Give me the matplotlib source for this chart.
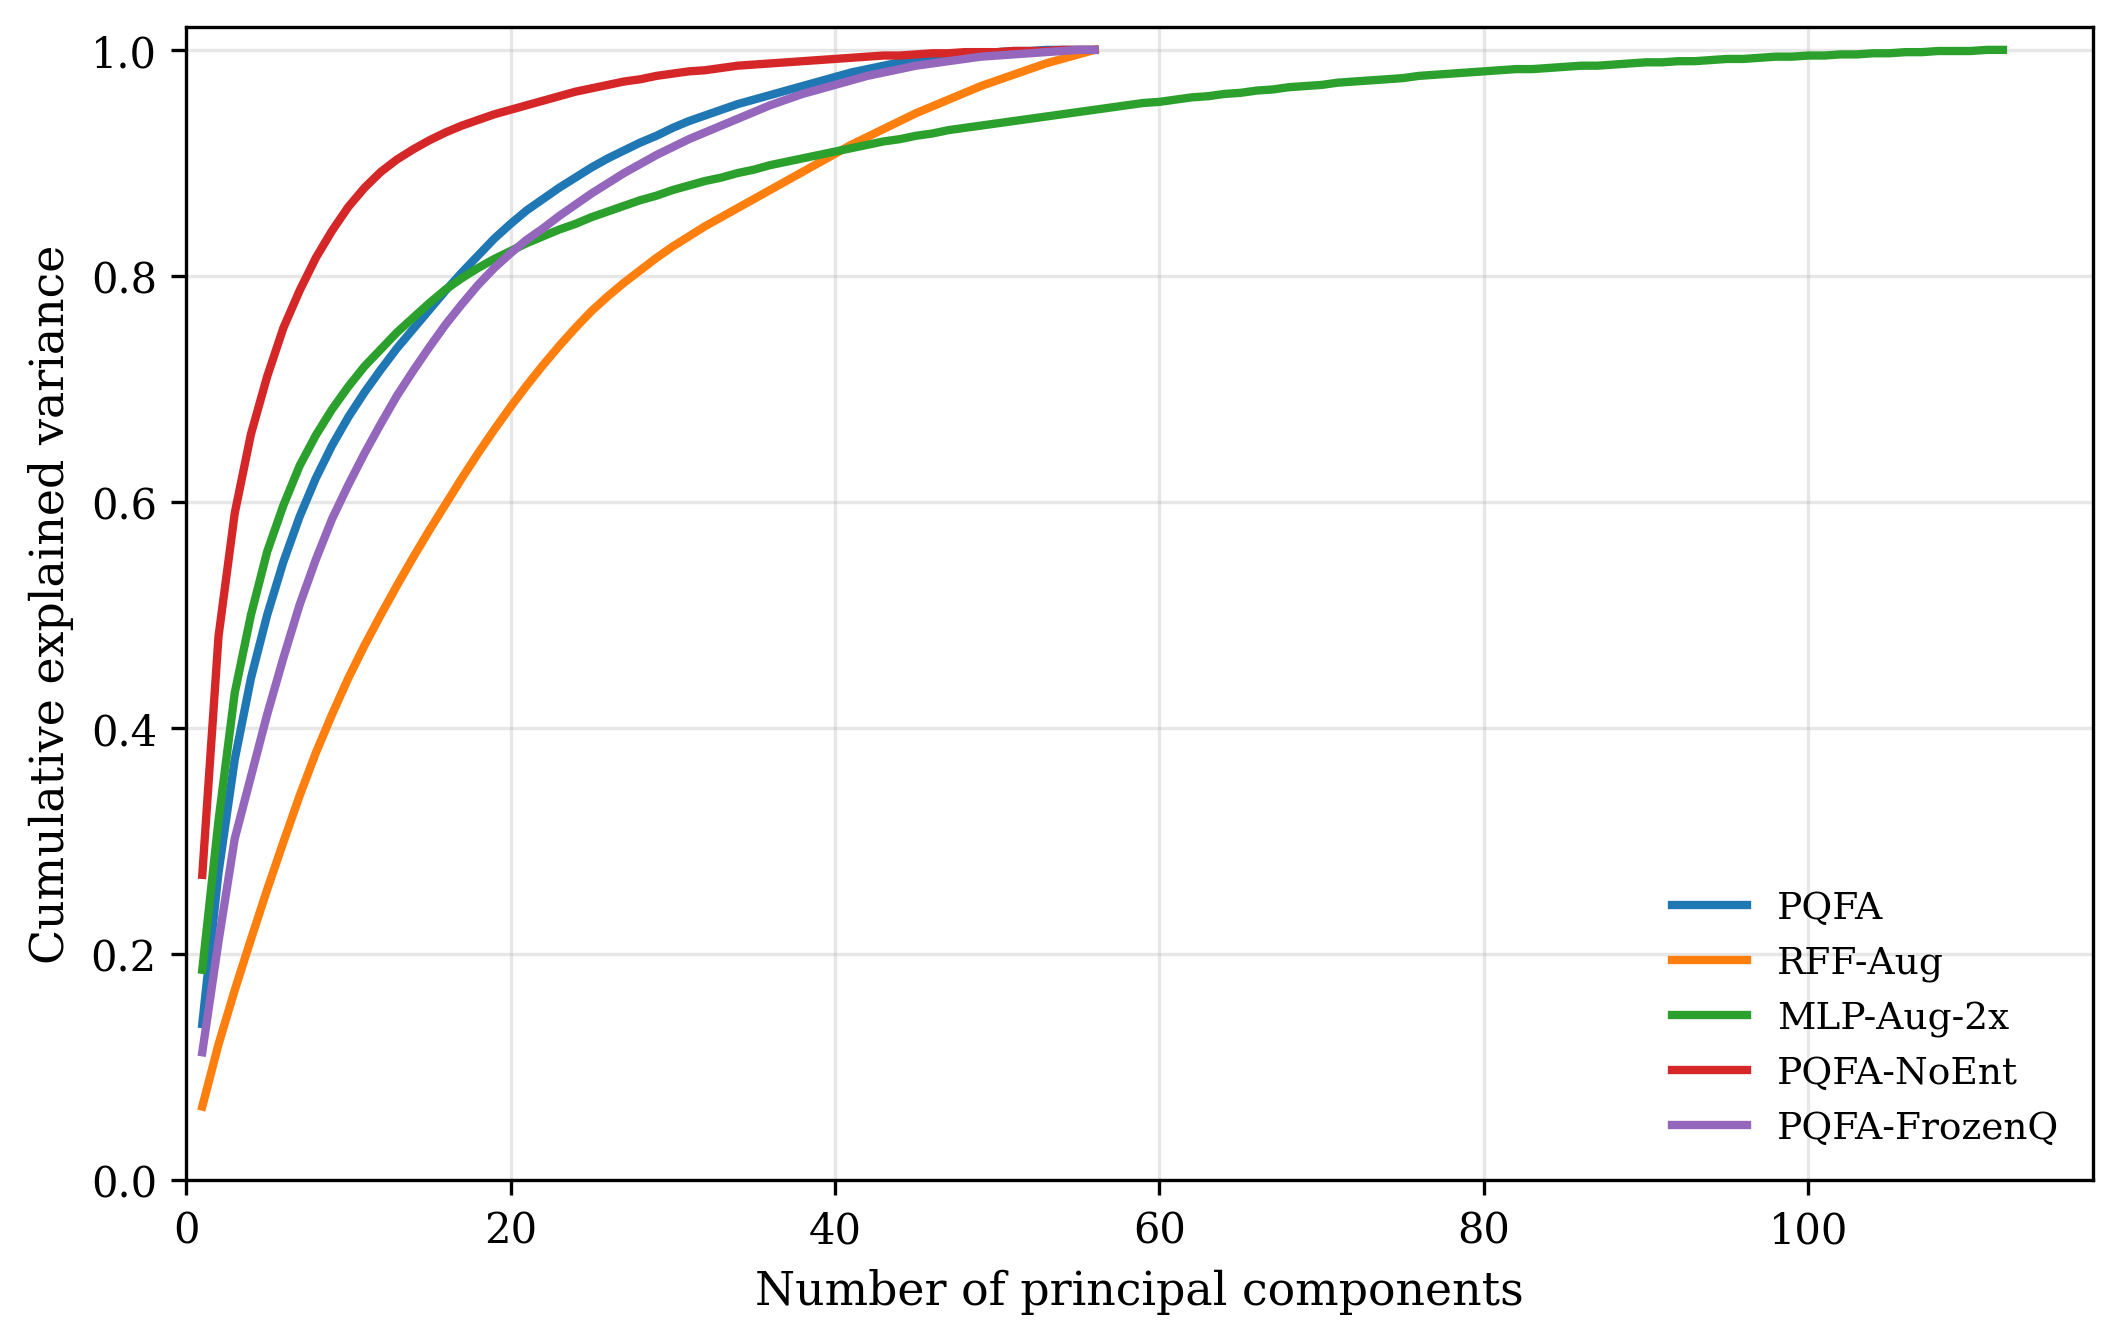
import numpy as np
import matplotlib
matplotlib.use("Agg")
import matplotlib.pyplot as plt

# ==============================
# Cumulative explained variance
# ==============================
pqfa = [0.138, 0.272, 0.372, 0.444, 0.500, 0.547, 0.587, 0.621, 0.650, 0.675,
        0.697, 0.717, 0.736, 0.753, 0.770, 0.787, 0.803, 0.818, 0.833, 0.846,
        0.858, 0.868, 0.878, 0.887, 0.896, 0.904, 0.911, 0.918, 0.924, 0.931,
        0.937, 0.942, 0.947, 0.952, 0.956, 0.960, 0.964, 0.968, 0.972, 0.976,
        0.980, 0.983, 0.986, 0.989, 0.991, 0.993, 0.995, 0.996, 0.997, 0.998,
        0.999, 0.999, 1.000, 1.000, 1.000, 1.000]

rff_aug = [0.065, 0.120, 0.168, 0.213, 0.257, 0.299, 0.340, 0.378, 0.412, 0.444,
           0.473, 0.500, 0.526, 0.551, 0.575, 0.598, 0.621, 0.643, 0.664, 0.684,
           0.703, 0.721, 0.738, 0.754, 0.769, 0.782, 0.794, 0.805, 0.816, 0.826,
           0.835, 0.844, 0.852, 0.860, 0.868, 0.876, 0.884, 0.892, 0.900, 0.908,
           0.916, 0.923, 0.930, 0.937, 0.944, 0.950, 0.956, 0.962, 0.968, 0.973,
           0.978, 0.983, 0.988, 0.992, 0.996, 1.000]

mlp_aug_2x = [0.186, 0.318, 0.431, 0.500, 0.556, 0.597, 0.632, 0.659, 0.682, 0.702,
              0.720, 0.735, 0.750, 0.763, 0.776, 0.788, 0.798, 0.807, 0.815, 0.822,
              0.829, 0.835, 0.841, 0.846, 0.852, 0.857, 0.862, 0.867, 0.871, 0.876,
              0.880, 0.884, 0.887, 0.891, 0.894, 0.898, 0.901, 0.904, 0.907, 0.910,
              0.913, 0.916, 0.919, 0.921, 0.924, 0.926, 0.929, 0.931, 0.933, 0.935,
              0.937, 0.939, 0.941, 0.943, 0.945, 0.947, 0.949, 0.951, 0.953, 0.954,
              0.956, 0.958, 0.959, 0.961, 0.962, 0.964, 0.965, 0.967, 0.968, 0.969,
              0.971, 0.972, 0.973, 0.974, 0.975, 0.977, 0.978, 0.979, 0.980, 0.981,
              0.982, 0.983, 0.983, 0.984, 0.985, 0.986, 0.986, 0.987, 0.988, 0.989,
              0.989, 0.990, 0.990, 0.991, 0.992, 0.992, 0.993, 0.994, 0.994, 0.995,
              0.995, 0.996, 0.996, 0.997, 0.997, 0.998, 0.998, 0.999, 0.999, 0.999,
              1.000, 1.000]

pqfa_noent = [0.270, 0.481, 0.590, 0.660, 0.711, 0.754, 0.787, 0.816, 0.840, 0.861,
              0.878, 0.892, 0.903, 0.912, 0.920, 0.927, 0.933, 0.938, 0.943, 0.947,
              0.951, 0.955, 0.959, 0.963, 0.966, 0.969, 0.972, 0.974, 0.977, 0.979,
              0.981, 0.982, 0.984, 0.986, 0.987, 0.988, 0.989, 0.990, 0.991, 0.992,
              0.993, 0.994, 0.995, 0.995, 0.996, 0.997, 0.997, 0.998, 0.998, 0.998,
              0.999, 0.999, 0.999, 1.000, 1.000, 1.000]

pqfa_frozenq = [0.113, 0.211, 0.302, 0.357, 0.412, 0.462, 0.509, 0.549, 0.585, 0.615,
                0.643, 0.669, 0.694, 0.716, 0.737, 0.757, 0.775, 0.792, 0.807, 0.820,
                0.832, 0.842, 0.853, 0.863, 0.873, 0.882, 0.891, 0.899, 0.907, 0.914,
                0.921, 0.927, 0.933, 0.939, 0.945, 0.951, 0.956, 0.961, 0.965, 0.969,
                0.973, 0.977, 0.980, 0.983, 0.986, 0.988, 0.990, 0.992, 0.994, 0.995,
                0.996, 0.997, 0.998, 0.999, 1.000, 1.000]

series = [
    ("PQFA", pqfa, "#1f77b4"),
    ("RFF-Aug", rff_aug, "#ff7f0e"),
    ("MLP-Aug-2x", mlp_aug_2x, "#2ca02c"),
    ("PQFA-NoEnt", pqfa_noent, "#d62728"),
    ("PQFA-FrozenQ", pqfa_frozenq, "#9467bd"),
]

plt.rcParams["font.family"] = ["DejaVu Serif"]

fig, ax = plt.subplots(figsize=(7.08, 4.473), dpi=300)
fig.subplots_adjust(left=0.0876, right=0.9854, top=0.979, bottom=0.12)

for label, vals, color in series:
    comps = np.arange(1, len(vals) + 1)
    ax.plot(comps, vals, label=label, color=color, linewidth=2.0)

ax.set_xlim(left=0)
ax.set_ylim(0, 1.02)
ax.set_xlabel("Number of principal components", fontsize=11)
ax.set_ylabel("Cumulative explained variance", fontsize=11)
ax.tick_params(labelsize=10)
ax.grid(True, alpha=0.3)
ax.legend(loc="lower right", frameon=False, fontsize=9)

fig.savefig("out.png", dpi=300)
